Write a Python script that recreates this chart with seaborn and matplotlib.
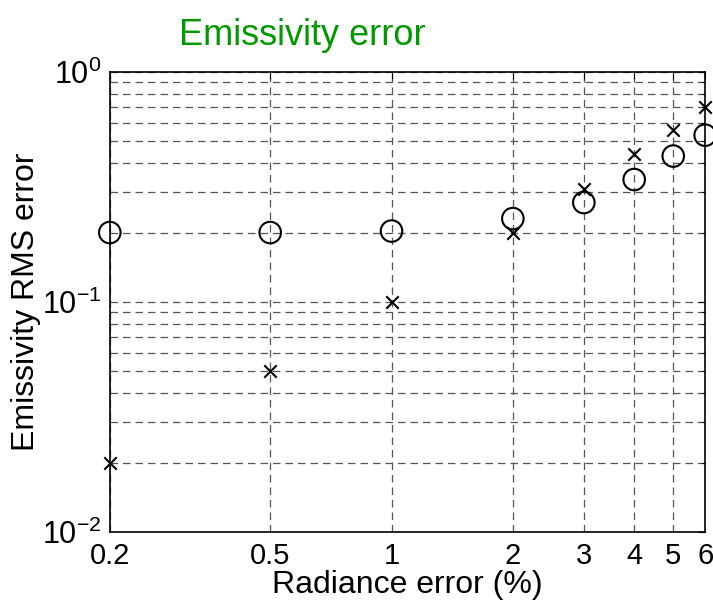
import numpy as np
import pandas as pd
import seaborn as sns
import matplotlib
matplotlib.use("Agg")
import matplotlib.pyplot as plt
from matplotlib.ticker import FixedLocator, FixedFormatter, LogLocator, NullFormatter

radiance_err = [0.2, 0.5, 1, 2, 3, 4, 5, 6]
rms_circle = [0.20, 0.20, 0.203, 0.23, 0.27, 0.34, 0.43, 0.53]
rms_cross = [0.02, 0.05, 0.10, 0.20, 0.31, 0.44, 0.56, 0.70]
x_tick_labels = ["0.2", "0.5", "1", "2", "3", "4", "5", "6"]

sns.set_style("white")
plt.rcParams['font.family'] = ['Liberation Sans', 'DejaVu Sans']
plt.rcParams['mathtext.fontset'] = 'custom'
plt.rcParams['mathtext.rm'] = 'Liberation Sans'
for k in ["text.color", "axes.labelcolor", "xtick.color", "ytick.color"]:
    plt.rcParams[k] = "black"

df_circ = pd.DataFrame({"x": radiance_err, "y": rms_circle})
df_cross = pd.DataFrame({"x": radiance_err, "y": rms_cross})

fig = plt.figure(figsize=(7.13, 6.03), dpi=100)
ax = fig.add_axes([0.154, 0.118, 0.835, 0.763])

sns.scatterplot(data=df_circ, x="x", y="y", ax=ax, marker="o", s=240,
                facecolors="none", edgecolor="black", linewidth=1.5, zorder=3,
                clip_on=False)
sns.scatterplot(data=df_cross, x="x", y="y", ax=ax, marker="x", s=80,
                color="black", linewidth=1.5, zorder=3, clip_on=False)

ax.set_xscale("log")
ax.set_yscale("log")
ax.set_xlim(0.2, 6)
ax.set_ylim(0.01, 1)

ax.xaxis.set_major_locator(FixedLocator(radiance_err))
ax.xaxis.set_major_formatter(FixedFormatter(x_tick_labels))
ax.xaxis.set_minor_locator(FixedLocator([]))
ax.yaxis.set_major_locator(LogLocator(base=10, numticks=5))
ax.yaxis.set_minor_locator(LogLocator(base=10, subs=np.arange(2, 10), numticks=20))
ax.yaxis.set_minor_formatter(NullFormatter())

ax.grid(True, which="major", axis="both", linestyle=(0, (6, 4)), color="#555555", linewidth=0.9)
ax.grid(True, which="minor", axis="y", linestyle=(0, (6, 4)), color="#555555", linewidth=0.9)

ax.tick_params(axis="both", which="both", direction="in", top=True, right=True,
               labelsize=21, color="black")
ax.tick_params(axis="x", which="both", pad=7)
ax.tick_params(axis="y", which="both", pad=6, labelsize=22)
ax.tick_params(which="major", length=5)
ax.tick_params(which="minor", length=3)
for sp in ax.spines.values():
    sp.set_color("black")
    sp.set_linewidth(1.2)

ax.set_xlabel("Radiance error (%)", fontsize=23, labelpad=0)
ax.set_ylabel("Emissivity RMS error", fontsize=23, labelpad=1)
ax.set_title("Emissivity error", fontsize=26, color="#009900", pad=19, x=0.323)

fig.savefig("out.png", dpi=100)
